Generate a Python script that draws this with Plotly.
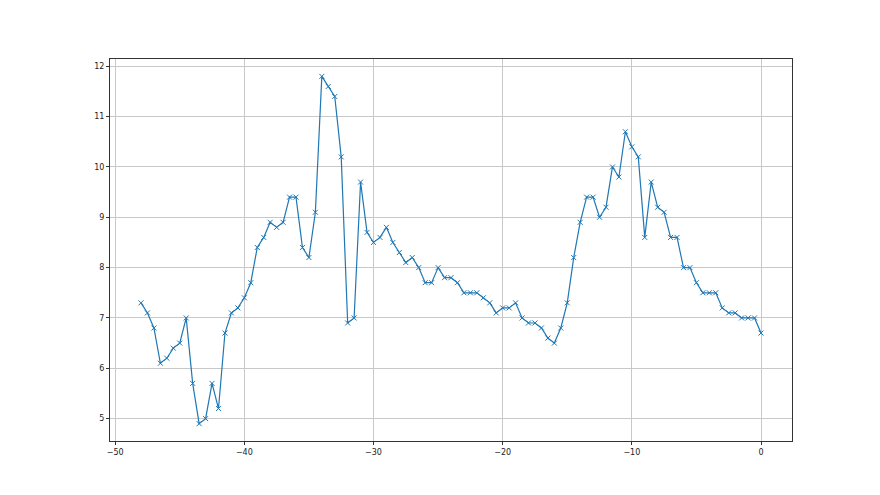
import plotly.graph_objects as go

# x positions (step of 0.5 from -48 to 0) and the values
x_vals = [-48, -47.5, -47, -46.5, -46, -45.5, -45, -44.5, -44, -43.5,
          -43, -42.5, -42, -41.5, -41, -40.5, -40, -39.5, -39, -38.5,
          -38, -37.5, -37, -36.5, -36, -35.5, -35, -34.5, -34, -33.5,
          -33, -32.5, -32, -31.5, -31, -30.5, -30, -29.5, -29, -28.5,
          -28, -27.5, -27, -26.5, -26, -25.5, -25, -24.5, -24, -23.5,
          -23, -22.5, -22, -21.5, -21, -20.5, -20, -19.5, -19, -18.5,
          -18, -17.5, -17, -16.5, -16, -15.5, -15, -14.5, -14, -13.5,
          -13, -12.5, -12, -11.5, -11, -10.5, -10, -9.5, -9, -8.5,
          -8, -7.5, -7, -6.5, -6, -5.5, -5, -4.5, -4, -3.5,
          -3, -2.5, -2, -1.5, -1, -0.5, 0]
y_vals = [7.3, 7.1, 6.8, 6.1, 6.2, 6.4, 6.5, 7.0, 5.7, 4.9,
          5.0, 5.7, 5.2, 6.7, 7.1, 7.2, 7.4, 7.7, 8.4, 8.6,
          8.9, 8.8, 8.9, 9.4, 9.4, 8.4, 8.2, 9.1, 11.8, 11.6,
          11.4, 10.2, 6.9, 7.0, 9.7, 8.7, 8.5, 8.6, 8.8, 8.5,
          8.3, 8.1, 8.2, 8.0, 7.7, 7.7, 8.0, 7.8, 7.8, 7.7,
          7.5, 7.5, 7.5, 7.4, 7.3, 7.1, 7.2, 7.2, 7.3, 7.0,
          6.9, 6.9, 6.8, 6.6, 6.5, 6.8, 7.3, 8.2, 8.9, 9.4,
          9.4, 9.0, 9.2, 10.0, 9.8, 10.7, 10.4, 10.2, 8.6, 9.7,
          9.2, 9.1, 8.6, 8.6, 8.0, 8.0, 7.7, 7.5, 7.5, 7.5,
          7.2, 7.1, 7.1, 7.0, 7.0, 7.0, 6.7]

blue = "#1f77b4"

fig = go.Figure()
fig.add_trace(go.Scatter(
    x=x_vals, y=y_vals, mode="lines+markers",
    line=dict(color=blue, width=1.2),
    marker=dict(symbol="x-thin", size=5, color=blue, line=dict(width=1, color=blue)),
    showlegend=False,
))

# matplotlib-like axes: 5% padding around data
x_pad = (max(x_vals) - min(x_vals)) * 0.05
y_pad = (max(y_vals) - min(y_vals)) * 0.05

axis_style = dict(
    showline=True, mirror=True, linecolor="#333333", linewidth=1,
    ticks="outside", ticklen=3, tickwidth=1, tickcolor="#333333",
    showgrid=True, gridcolor="#c8c8c8", gridwidth=1, zeroline=False,
    tickfont=dict(family="DejaVu Sans", size=8, color="#222222"),
)

# page body has an 8px margin, so the margins are shifted to compensate
fig.update_layout(
    width=880, height=495,
    margin=dict(l=102, r=96, t=51, b=62),
    paper_bgcolor="white", plot_bgcolor="white",
    xaxis=dict(range=[min(x_vals) - x_pad, max(x_vals) + x_pad], dtick=10, **axis_style),
    yaxis=dict(range=[min(y_vals) - y_pad, max(y_vals) + y_pad], dtick=1, **axis_style),
)

fig.write_html("out.html")
